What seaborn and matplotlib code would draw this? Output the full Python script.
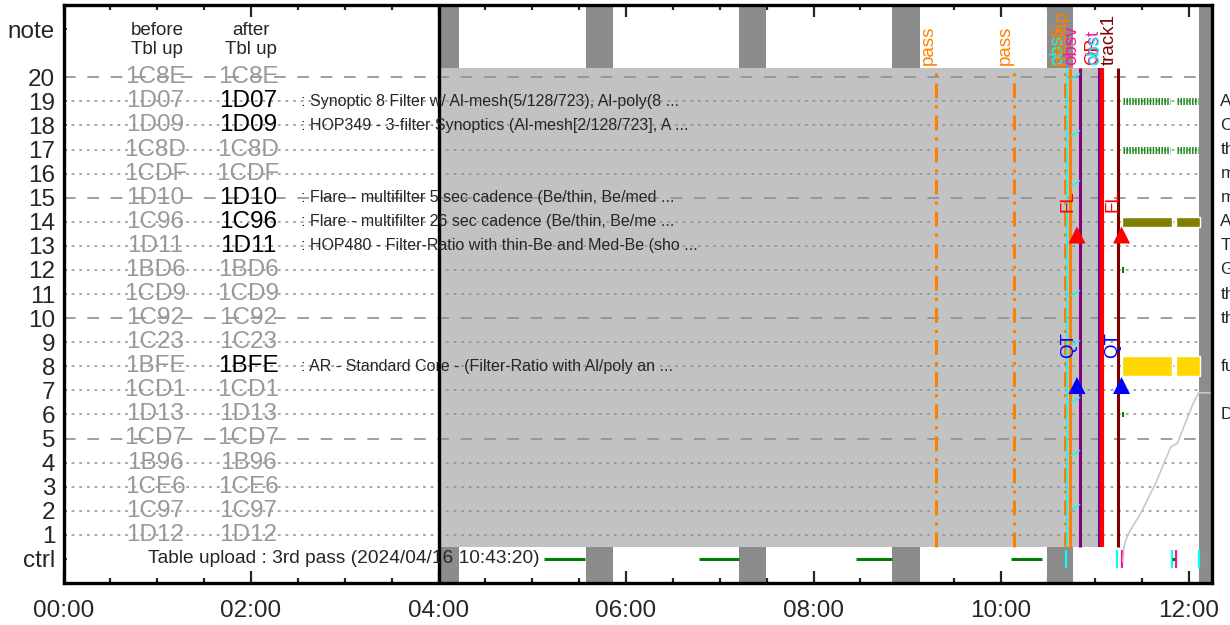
import matplotlib
matplotlib.use("Agg")
import matplotlib.pyplot as plt
import matplotlib.ticker as mticker
import pandas as pd
import seaborn as sns

# ---------------- data ----------------
rows = list(range(20, 0, -1))
ids_before = ["1C8E", "1D07", "1D09", "1C8D", "1CDF", "1D10", "1C96", "1D11", "1BD6", "1CD9",
              "1C92", "1C23", "1BFE", "1CD1", "1D13", "1CD7", "1B96", "1CE6", "1C97", "1D12"]
ids_after = ["1C8E", "1D07", "1D09", "1C8D", "1CDF", "1D10", "1C96", "1D11", "1BD6", "1CD9",
             "1C92", "1C23", "1BFE", "1CD1", "1D13", "1CD7", "1B96", "1CE6", "1C97", "1D12"]
active_after = [19, 18, 15, 14, 13, 8]
desc_rows = [19, 18, 15, 14, 13, 8]
desc_texts = [
    ": Synoptic 8 Filter w/ Al-mesh(5/128/723), Al-poly(8 ...",
    ": HOP349 - 3-filter Synoptics (Al-mesh[2/128/723], A ...",
    ": Flare - multifilter 5 sec cadence (Be/thin, Be/med ...",
    ": Flare - multifilter 26 sec cadence (Be/thin, Be/me ...",
    ": HOP480 - Filter-Ratio with thin-Be and Med-Be (sho ...",
    ": AR - Standard Core - (Filter-Ratio with Al/poly an ...",
]
note_rows = [19, 18, 17, 16, 15, 14, 13, 12, 11, 10, 8, 6]
note_texts = ["A", "C", "th", "m", "m", "A", "T", "G", "th", "th", "fu", "D"]
dashed_rows = [20, 15, 10, 5]

ytick_pos = [0] + list(range(1, 21)) + [22]
ytick_labels = ["ctrl"] + [str(i) for i in range(1, 21)] + ["note"]
xtick_hours = [0, 2, 4, 6, 8, 10, 12]
xtick_labels = ["00:00", "02:00", "04:00", "06:00", "08:00", "10:00", "12:00"]

night_start = [4.00, 5.57, 7.21, 8.84, 10.49, 12.11]
night_end = [4.22, 5.86, 7.49, 9.14, 10.77, 12.25]
past_start, past_end = 4.00, 11.04
table_line = 4.00

ctrl_green_start = [5.12, 6.78, 8.45, 10.11]
ctrl_green_end = [5.56, 7.21, 8.84, 10.44]
ctrl_text = "Table upload : 3rd pass (2024/04/16 10:43:20)"
ctrl_cyan = [10.69, 11.24, 11.82, 12.115]
ctrl_pink = [11.29, 11.87]
ctrl_dot = [11.84]

pass_times = [9.31, 10.14, 10.677]
event_times = [10.70, 10.736, 10.84, 11.045, 11.075, 11.25]
event_colors = ["cyan", "#ff8000", "purple", "purple", "red", "#800000"]
event_widths = [1.1, 2.2, 2.2, 1.5, 3.0, 2.2]
label_times = [9.31, 10.14, 10.677, 10.70, 10.736, 10.84, 11.065, 11.075, 11.09, 11.25]
label_texts = ["pass", "pass", "pass", "obs", "mssap", "obsv", "OP", "obst", "obs", "track1"]
label_colors = ["#ff8000", "#ff8000", "#ff8000", "cyan", "#ff8000", "deeppink",
                "red", "deeppink", "cyan", "#800000"]

tri_times = [10.81, 11.285]
fl_y, fl_text_y = 13.45, 14.4
qt_y, qt_text_y = 7.2, 8.35

diag_rows = [20.04, 17.68, 15.6, 13.3, 11.04, 8.96, 6.6, 4.4, 2.16]

curve_t = [11.30, 11.31, 11.35, 11.49, 11.65, 11.81, 11.88, 12.05, 12.11, 12.25]
curve_v = [-0.1, 0.5, 1.0, 1.9, 3.15, 4.65, 4.8, 6.47, 6.9, 6.9]

obs_start = [11.30, 11.88]
obs_end = [11.80, 12.10]
hatched_rows = [19, 17]
bar_start = [11.29, 11.87]
bar_end = [11.82, 12.12]
olive_row = 14
gold_row = 8
tick_rows = [12, 6]
tick_time = 11.30

# ---------------- style ----------------
sns.set_style("ticks")
plt.rcParams["font.family"] = ["Liberation Sans", "DejaVu Sans"]

LIGHT = "#c2c2c2"
DARK = "#8c8c8c"
GRID = "#8f8f8f"
IDGRAY = "#999999"

fig = plt.figure(figsize=(12.3, 6.25), dpi=100)
ax = fig.add_axes([63.5 / 1230, 42 / 625, (1212 - 63.5) / 1230, 578 / 625])
ax.set_xlim(0, 12.25)
ax.set_ylim(-1, 23)
ax.set_facecolor("white")

row_top, row_bot = 20.4, 0.5

# night / dark bands
for s, e in zip(night_start, night_end):
    ax.fill_between([s, e], row_top, 23, color=DARK, lw=0, zorder=1)
    ax.fill_between([s, e], -1, row_bot, color=DARK, lw=0, zorder=1)
    ms = max(s, past_end)
    if e > ms:
        ax.fill_between([ms, e], row_bot, row_top, color=DARK, lw=0, zorder=4)

# past region
ax.fill_between([past_start, past_end], row_bot, row_top, color=LIGHT, lw=0, zorder=2)

# grid lines per row
for r in rows:
    if r in dashed_rows:
        ax.hlines(r, 0, 12.25, color=GRID, lw=1.2, linestyles=(0, (7, 7)), zorder=3)
    else:
        ax.hlines(r, 0, 12.25, color=GRID, lw=1.1, linestyles=(0, (1.8, 3.2)), zorder=3)

# table-upload line
ax.axvline(table_line, color="black", lw=2.4, zorder=7)

# ctrl row
for s, e in zip(ctrl_green_start, ctrl_green_end):
    ax.hlines(0, s, e, color="#008000", lw=2.2, zorder=5)
ax.vlines(ctrl_cyan, -0.37, 0.37, color="cyan", lw=1.6, zorder=5)
ax.vlines(ctrl_pink, -0.37, 0.37, color="deeppink", lw=1.6, zorder=5)
for t in ctrl_dot:
    ax.hlines(0, t - 0.02, t + 0.02, color="#008000", lw=2.2, zorder=5)
ax.text(0.90, 0, ctrl_text, fontsize=13.8, va="center", ha="left", zorder=8)

# pass lines
for t in pass_times:
    ax.vlines(t, row_bot, row_top, color="#ff8000", lw=2.2,
              linestyles=(0, (4.9, 2.3, 1.0, 2.3)), zorder=5)
# event lines
for t, c, w in zip(event_times, event_colors, event_widths):
    ax.vlines(t, row_bot, row_top, color=c, lw=w, zorder=5)

for t, s, c in zip(label_times, label_texts, label_colors):
    ax.text(t, 20.5, s, rotation=90, ha="right", va="bottom", color=c,
            fontsize=13.5, zorder=8)

# small cyan diagonal ticks
for r in diag_rows:
    ax.plot([10.75, 10.84], [r - 0.1, r + 0.1], color="cyan", lw=1.0, zorder=5)

# observation blocks
for r in hatched_rows:
    for s, e in zip(obs_start, obs_end):
        ax.hlines(r, s, e, color="#1a8a1a", lw=5, linestyles=(0, (0.22, 0.2)), zorder=5)
ax.broken_barh([(s, e - s) for s, e in zip(bar_start, bar_end)], (olive_row - 0.21, 0.42),
               facecolors="#808000", zorder=5)
ax.broken_barh([(s, e - s) for s, e in zip(bar_start, bar_end)], (gold_row - 0.42, 0.84),
               facecolors="#ffd700", zorder=5)
for r in tick_rows:
    ax.vlines(tick_time, r - 0.12, r + 0.12, color="#008000", lw=1.5, zorder=5)

# data curve
curve = pd.DataFrame({"t": curve_t, "v": curve_v})
sns.lineplot(data=curve, x="t", y="v", ax=ax, color="#c8c8c8", lw=1.2,
             estimator=None, sort=False, zorder=5)

# triangles FL / QT
tri = pd.DataFrame({"t": tri_times + tri_times,
                    "y": [fl_y] * len(tri_times) + [qt_y] * len(tri_times),
                    "kind": ["FL"] * len(tri_times) + ["QT"] * len(tri_times)})
sns.scatterplot(data=tri, x="t", y="y", hue="kind", palette={"FL": "red", "QT": "blue"},
                marker="^", s=150, linewidth=0, ax=ax, legend=False, zorder=9)
for t in tri_times:
    ax.text(t, fl_text_y, "FL", rotation=90, ha="right", va="bottom", color="red",
            fontsize=13.5, zorder=8)
    ax.text(t, qt_text_y, "QT", rotation=90, ha="right", va="bottom", color="blue",
            fontsize=13.5, zorder=8)

# row labels
for r, b, a in zip(rows, ids_before, ids_after):
    ax.text(0.98, r, b, ha="center", va="center", fontsize=17.5, color=IDGRAY, zorder=6)
    ax.text(1.97, r, a, ha="center", va="center", fontsize=17.5,
            color="black" if r in active_after else IDGRAY, zorder=6)
ax.text(1.0, 21.55, "before\nTbl up", ha="center", va="center", fontsize=13.5, linespacing=1.12)
ax.text(2.0, 21.55, "after\nTbl up", ha="center", va="center", fontsize=13.5, linespacing=1.12)

for r, s in zip(desc_rows, desc_texts):
    ax.text(2.53, r, s, ha="left", va="center", fontsize=11.5, zorder=8)

for r, s in zip(note_rows, note_texts):
    ax.text(12.34, r, s, ha="left", va="center", fontsize=12.5, clip_on=False)

# axes styling
ax.set_xlabel("")
ax.set_ylabel("")
ax.set_xticks(xtick_hours)
ax.set_xticklabels(xtick_labels, fontsize=17.5)
ax.xaxis.set_minor_locator(mticker.MultipleLocator(0.5))
ax.set_yticks(ytick_pos)
ax.set_yticklabels(ytick_labels, fontsize=17.5)
ax.tick_params(axis="x", which="major", direction="in", length=8.5, width=1.6,
               top=True, bottom=True, pad=12)
ax.tick_params(axis="x", which="minor", direction="in", length=3.5, width=1.6,
               top=True, bottom=True)
ax.tick_params(axis="y", which="major", direction="in", length=2.5, width=1.2,
               left=True, right=True, pad=6)
for sp in ax.spines.values():
    sp.set_linewidth(2.4)
    sp.set_color("black")
    sp.set_zorder(10)

fig.savefig("out.png", dpi=100)
